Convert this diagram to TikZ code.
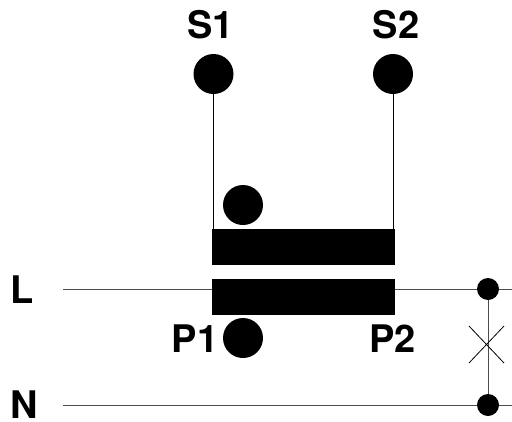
\documentclass[tikz,border=0pt]{standalone}
\usepackage{fontspec}
\setmainfont{TeX Gyre Heros}
\definecolor{wiregray}{gray}{0.3}
\begin{document}
\begin{tikzpicture}[x=1pt,y=-1pt,
  lbl/.style={font=\bfseries\fontsize{38}{42}\selectfont,inner sep=0pt,anchor=base},
  bigdot/.style={circle,fill=black,inner sep=0pt,minimum size=40pt},
  smalldot/.style={circle,fill=black,inner sep=0pt,minimum size=22pt},
  core/.style={fill=black,inner sep=0pt,minimum width=183pt,minimum height=36pt},
  wire/.style={line width=1pt,draw=wiregray},
  thinwire/.style={line width=0.8pt,draw=black}]
\useasboundingbox (0,0) rectangle (512,421);
\node[bigdot] (s1) at (213.5,74) {};
\node[bigdot] (s2) at (393,74) {};
\node[bigdot] (d1) at (243,205) {};
\node[bigdot] (d2) at (243,338) {};
\node[core] (c1) at (303.5,247) {};
\coordinate (lstart) at (63,289);
\coordinate (nstart) at (63,405);
\coordinate (lend) at (512,289);
\coordinate (nend) at (512,405);
\coordinate (x1) at (469,326);
\coordinate (x2) at (504,363);
\coordinate (x3) at (469,363);
\coordinate (x4) at (504,326);
\draw[wire] (lstart) -- (lend);
\draw[wire] (nstart) -- (nend);
\node[core] (c2) at (303.5,297) {};
\node[smalldot] (j1) at (488,289) {};
\node[smalldot] (j2) at (488,405) {};
\node[lbl] (ls1) at (210.5,38.5) {S1};
\node[lbl] (ls2) at (396,38.5) {S2};
\node[lbl] (lp1) at (195,352.5) {P1};
\node[lbl] (lp2) at (392.5,352.5) {P2};
\node[lbl] (ll) at (22,303) {L};
\node[lbl] (ln) at (24.7,418) {N};
\draw[thinwire] (s1) -- (s1 |- c1.north);
\draw[thinwire] (s2) -- (s2 |- c1.north);
\draw[wire] (j1) -- (j2);
\draw[thinwire] (x1) -- (x2);
\draw[thinwire] (x3) -- (x4);
\end{tikzpicture}
\end{document}
